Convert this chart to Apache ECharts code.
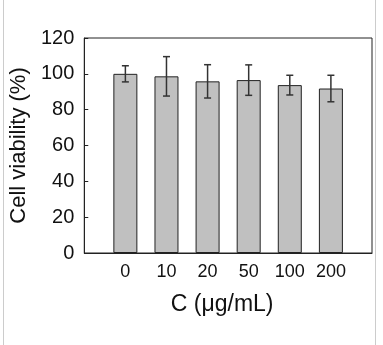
<!DOCTYPE html>
<html>
<head>
<meta charset="utf-8">
<script src="https://cdn.jsdelivr.net/npm/echarts@6/dist/echarts.min.js"></script>
<style>html,body{margin:0;padding:0;background:#fff}#c{width:383px;height:345px}</style>
</head>
<body>
<div id="c"></div>
<script>
const categories = ['0', '10', '20', '50', '100', '200'];
const viability = [100, 98.6, 95.8, 96.5, 93.7, 91.8];
const errors = [4.5, 11, 9.3, 8.5, 5.5, 7.4];
const yTicks = [0, 20, 40, 60, 80, 100, 120];

const barData = viability.map((v, i) => [i, v]);
const errData = viability.map((v, i) => [i, v - errors[i], v + errors[i]]);
const FONT = '"Liberation Sans", Arial, sans-serif';

const chart = echarts.init(document.getElementById('c'), null, {renderer: 'canvas'});
chart.setOption({
  animation: false,
  backgroundColor: '#fff',
  grid: {left: 84, right: 11, top: 38, bottom: 92, show: true, borderColor: '#222', borderWidth: 1},
  xAxis: {
    type: 'value', min: -1, max: 6, interval: 1,
    splitLine: {show: false},
    axisTick: {show: false},
    axisLine: {onZero: false, lineStyle: {color: '#222', width: 1}},
    axisLabel: {
      fontFamily: FONT, fontSize: 18, color: '#111', margin: 10,
      formatter: v => (v >= 0 && v < categories.length && Number.isInteger(v)) ? categories[v] : ''
    },
    name: 'C (μg/mL)', nameLocation: 'middle', nameGap: 40,
    nameTextStyle: {fontFamily: FONT, fontSize: 23, color: '#111', padding: [0, 12, 0, 0]}
  },
  yAxis: {
    type: 'value', min: yTicks[0], max: yTicks[yTicks.length - 1], interval: 20,
    splitLine: {show: false},
    axisLine: {show: true, onZero: false, lineStyle: {color: '#222', width: 1}},
    axisTick: {show: true, inside: true, length: 4, lineStyle: {color: '#222'}},
    axisLabel: {fontFamily: FONT, fontSize: 20, color: '#111', margin: 10},
    name: 'Cell viability (%)', nameLocation: 'middle', nameGap: 54, nameRotate: 90,
    nameTextStyle: {fontFamily: FONT, fontSize: 22, color: '#111'}
  },
  series: [
    {
      type: 'bar', data: barData, barWidth: 24,
      itemStyle: {color: '#c0c0c0', borderColor: '#222', borderWidth: 1}
    },
    {
      type: 'custom', data: errData, z: 5,
      renderItem: function (params, api) {
        const x = api.value(0);
        const lo = api.coord([x, api.value(1)]);
        const hi = api.coord([x, api.value(2)]);
        const w = 3.5;
        const st = {stroke: '#333', lineWidth: 1.5};
        return {type: 'group', children: [
          {type: 'line', shape: {x1: lo[0], y1: lo[1], x2: hi[0], y2: hi[1]}, style: st},
          {type: 'line', shape: {x1: lo[0] - w, y1: lo[1], x2: lo[0] + w, y2: lo[1]}, style: st},
          {type: 'line', shape: {x1: hi[0] - w, y1: hi[1], x2: hi[0] + w, y2: hi[1]}, style: st}
        ]};
      }
    }
  ],
  graphic: [
    {type: 'line', shape: {x1: 3.5, y1: 0, x2: 3.5, y2: 345}, style: {stroke: '#cccccc', lineWidth: 1}},
    {type: 'line', shape: {x1: 375.5, y1: 0, x2: 375.5, y2: 345}, style: {stroke: '#cccccc', lineWidth: 1}}
  ]
});
</script>
</body>
</html>
